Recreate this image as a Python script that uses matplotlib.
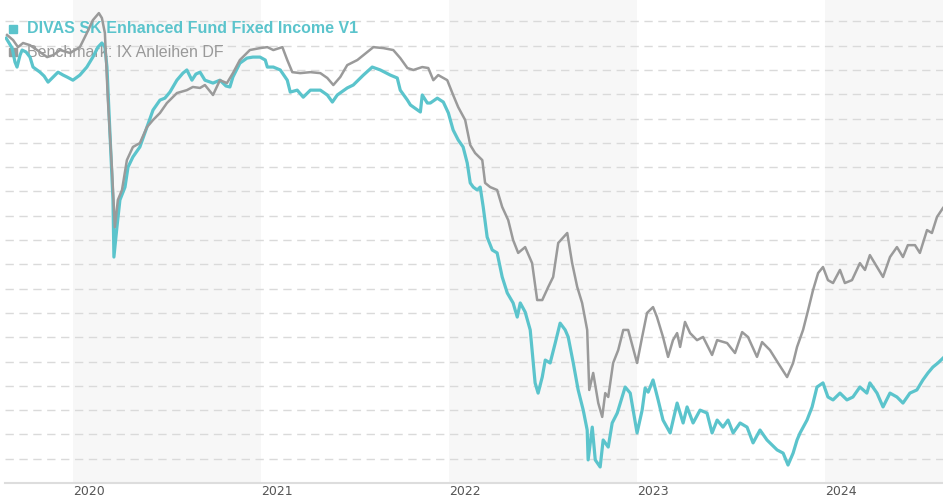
import pandas as pd
import numpy as np
import matplotlib
matplotlib.use("Agg")
import matplotlib.pyplot as plt
import matplotlib.dates as mdates

# dates as decimal years, values in chart units (one gridline = 1)
fund_t = [2019.644, 2019.676, 2019.691, 2019.702, 2019.718, 2019.729, 2019.750, 2019.771, 2019.787, 2019.824,
          2019.846, 2019.867, 2019.894, 2019.920, 2019.947, 2019.968, 2020.000, 2020.037, 2020.074, 2020.106,
          2020.133, 2020.154, 2020.170, 2020.181, 2020.197, 2020.213, 2020.218, 2020.234, 2020.250, 2020.277,
          2020.293, 2020.319, 2020.356, 2020.394, 2020.426, 2020.463, 2020.489, 2020.516, 2020.553, 2020.585,
          2020.606, 2020.633, 2020.654, 2020.676, 2020.702, 2020.745, 2020.782, 2020.814, 2020.835, 2020.851,
          2020.888, 2020.926, 2020.957, 2020.995, 2021.021, 2021.032, 2021.064, 2021.101, 2021.138, 2021.154,
          2021.191, 2021.223, 2021.261, 2021.314, 2021.351, 2021.378, 2021.404, 2021.457, 2021.489, 2021.543,
          2021.590, 2021.633, 2021.686, 2021.723, 2021.739, 2021.777, 2021.793, 2021.846, 2021.856, 2021.883,
          2021.899, 2021.936, 2021.968, 2021.995, 2022.021, 2022.048, 2022.074, 2022.096, 2022.112, 2022.128,
          2022.149, 2022.165, 2022.181, 2022.202, 2022.229, 2022.255, 2022.282, 2022.309, 2022.340, 2022.362,
          2022.378, 2022.404, 2022.431, 2022.457, 2022.473, 2022.495, 2022.511, 2022.537, 2022.564, 2022.590,
          2022.617, 2022.633, 2022.660, 2022.686, 2022.713, 2022.734, 2022.739, 2022.761, 2022.777, 2022.803,
          2022.819, 2022.846, 2022.867, 2022.894, 2022.910, 2022.936, 2022.963, 2023.000, 2023.027, 2023.043,
          2023.059, 2023.085, 2023.112, 2023.138, 2023.176, 2023.213, 2023.245, 2023.266, 2023.298, 2023.335,
          2023.372, 2023.399, 2023.426, 2023.457, 2023.484, 2023.511, 2023.548, 2023.585, 2023.617, 2023.654,
          2023.691, 2023.745, 2023.777, 2023.803, 2023.830, 2023.851, 2023.867, 2023.904, 2023.931, 2023.957,
          2023.989, 2024.016, 2024.043, 2024.080, 2024.117, 2024.149, 2024.186, 2024.223, 2024.239, 2024.277,
          2024.309, 2024.346, 2024.383, 2024.415, 2024.452, 2024.489, 2024.521, 2024.548, 2024.574, 2024.601,
          2024.628]
fund_v = [18.31, 17.90, 17.33, 17.12, 17.61, 17.82, 17.74, 17.53, 17.12, 16.91,
          16.75, 16.50, 16.71, 16.91, 16.79, 16.71, 16.58, 16.79, 17.12, 17.53,
          17.94, 18.11, 17.94, 17.12, 14.40, 11.65, 9.30, 10.53, 11.65, 12.18,
          13.00, 13.42, 13.83, 14.65, 15.35, 15.76, 15.84, 16.09, 16.58, 16.87,
          17.00, 16.58, 16.83, 16.91, 16.58, 16.46, 16.58, 16.34, 16.30, 16.71,
          17.28, 17.49, 17.53, 17.53, 17.41, 17.12, 17.12, 17.00, 16.58, 16.09,
          16.17, 15.88, 16.17, 16.17, 15.97, 15.68, 15.97, 16.26, 16.38, 16.79,
          17.12, 17.00, 16.79, 16.67, 16.17, 15.76, 15.56, 15.27, 15.97, 15.64,
          15.64, 15.84, 15.68, 15.23, 14.53, 14.12, 13.83, 13.17, 12.35, 12.18,
          12.06, 12.18, 11.36, 10.12, 9.59, 9.47, 8.48, 7.82, 7.41, 6.83,
          7.41, 7.04, 6.30, 4.12, 3.70, 4.36, 5.06, 4.94, 5.76, 6.58,
          6.30, 6.01, 4.94, 3.83, 3.00, 2.18, 0.95, 2.30, 0.95, 0.66,
          1.77, 1.48, 2.47, 2.88, 3.29, 3.95, 3.70, 2.06, 3.00, 3.91,
          3.74, 4.24, 3.42, 2.59, 2.06, 3.29, 2.47, 3.13, 2.47, 3.00,
          2.88, 2.06, 2.59, 2.30, 2.59, 2.06, 2.47, 2.30, 1.65, 2.18,
          1.77, 1.36, 1.23, 0.74, 1.23, 1.77, 2.06, 2.59, 3.13, 3.95,
          4.12, 3.54, 3.42, 3.70, 3.42, 3.54, 3.95, 3.70, 4.12, 3.70,
          3.13, 3.70, 3.54, 3.29, 3.70, 3.83, 4.24, 4.53, 4.77, 4.94,
          5.14]

bench_t = [2019.649, 2019.681, 2019.707, 2019.734, 2019.771, 2019.809, 2019.862, 2019.894, 2019.931, 2019.984,
           2020.037, 2020.074, 2020.106, 2020.138, 2020.154, 2020.170, 2020.186, 2020.207, 2020.223, 2020.239,
           2020.261, 2020.287, 2020.319, 2020.356, 2020.394, 2020.426, 2020.463, 2020.500, 2020.553, 2020.606,
           2020.638, 2020.676, 2020.702, 2020.745, 2020.782, 2020.819, 2020.851, 2020.888, 2020.941, 2020.995,
           2021.032, 2021.064, 2021.112, 2021.138, 2021.165, 2021.207, 2021.261, 2021.314, 2021.351, 2021.383,
           2021.420, 2021.457, 2021.511, 2021.564, 2021.596, 2021.649, 2021.702, 2021.739, 2021.777, 2021.809,
           2021.856, 2021.888, 2021.915, 2021.941, 2021.989, 2022.021, 2022.048, 2022.085, 2022.112, 2022.138,
           2022.176, 2022.191, 2022.218, 2022.255, 2022.282, 2022.314, 2022.340, 2022.367, 2022.404, 2022.441,
           2022.468, 2022.495, 2022.527, 2022.553, 2022.580, 2022.628, 2022.654, 2022.681, 2022.707, 2022.734,
           2022.745, 2022.766, 2022.793, 2022.814, 2022.830, 2022.846, 2022.872, 2022.899, 2022.926, 2022.952,
           2023.000, 2023.027, 2023.053, 2023.085, 2023.106, 2023.138, 2023.165, 2023.191, 2023.213, 2023.229,
           2023.255, 2023.282, 2023.319, 2023.351, 2023.399, 2023.426, 2023.479, 2023.521, 2023.559, 2023.590,
           2023.638, 2023.665, 2023.707, 2023.750, 2023.798, 2023.830, 2023.851, 2023.883, 2023.910, 2023.936,
           2023.963, 2023.989, 2024.016, 2024.043, 2024.080, 2024.106, 2024.144, 2024.186, 2024.213, 2024.239,
           2024.277, 2024.309, 2024.346, 2024.383, 2024.415, 2024.441, 2024.479, 2024.505, 2024.543, 2024.569,
           2024.596, 2024.628]
bench_v = [18.44, 18.23, 17.94, 18.11, 18.02, 17.82, 17.53, 17.61, 17.82, 17.70,
           17.94, 18.52, 19.05, 19.34, 19.14, 18.52, 15.76, 13.00, 10.53, 11.65,
           12.06, 13.29, 13.83, 13.99, 14.65, 14.94, 15.23, 15.64, 16.05, 16.17,
           16.30, 16.26, 16.38, 15.97, 16.58, 16.46, 16.87, 17.41, 17.82, 17.90,
           17.94, 17.82, 17.94, 17.41, 16.91, 16.87, 16.91, 16.87, 16.67, 16.38,
           16.71, 17.20, 17.41, 17.74, 17.94, 17.90, 17.82, 17.49, 17.08, 17.00,
           17.12, 17.08, 16.58, 16.79, 16.58, 15.97, 15.47, 14.94, 13.91, 13.58,
           13.29, 12.35, 12.18, 12.06, 11.36, 10.82, 10.00, 9.47, 9.71, 9.05,
           7.53, 7.53, 8.07, 8.48, 9.88, 10.29, 9.05, 8.07, 7.41, 6.30,
           3.83, 4.53, 3.29, 2.72, 3.70, 3.54, 4.94, 5.47, 6.30, 6.30,
           4.94, 6.01, 7.00, 7.24, 6.83, 6.01, 5.19, 5.88, 6.17, 5.60,
           6.63, 6.17, 5.88, 6.01, 5.27, 5.88, 5.76, 5.35, 6.21, 6.01,
           5.19, 5.80, 5.47, 4.94, 4.36, 4.94, 5.60, 6.30, 7.12, 7.94,
           8.64, 8.89, 8.35, 8.23, 8.77, 8.23, 8.35, 9.05, 8.77, 9.38,
           8.89, 8.48, 9.30, 9.71, 9.30, 9.79, 9.79, 9.47, 10.41, 10.29,
           10.95, 11.32]

years = [2020, 2021, 2022, 2023, 2024]
fund_name = "DIVAS SK Enhanced Fund Fixed Income V1"
bench_name = "Benchmark: IX Anleihen DF"

teal = "#5BC4CC"
grey = "#9A9A9A"


def to_dates(ts):
    out = []
    for t in ts:
        y = int(t)
        out.append(pd.Timestamp(year=y, month=1, day=1) + pd.Timedelta(days=(t - y) * 365.25))
    return mdates.date2num(out)


fig = plt.figure(figsize=(9.43, 5), dpi=100)
ax = fig.add_axes([5 / 943, 17 / 500, 938 / 943, 483 / 500])

# shaded every other year
for y in years[::2]:
    ax.axvspan(to_dates([y])[0], to_dates([y + 1])[0], color="#F7F7F7", zorder=0, lw=0)

ax.plot(to_dates(fund_t), fund_v, color=teal, lw=2.3, zorder=3, solid_joinstyle="round")
ax.plot(to_dates(bench_t), bench_v, color=grey, lw=1.8, zorder=4, solid_joinstyle="round")

ax.set_xlim(to_dates([2019.638])[0], to_dates([2024.628])[0])
ax.set_ylim(0, 19.88)
ax.set_yticks(np.arange(1, 20))
ax.yaxis.grid(True, color="#DADADA", linestyle=(0, (6, 4)), lw=1, zorder=1)
ax.set_axisbelow(True)
ax.tick_params(axis="y", length=0, labelleft=False)

ax.set_xticks(to_dates(years))
ax.set_xticklabels([str(y) for y in years], ha="left", fontsize=9, color="#555555")
ax.tick_params(axis="x", length=0, pad=1.5)

for s in ["top", "left", "right"]:
    ax.spines[s].set_visible(False)
ax.spines["bottom"].set_color("#DDDDDD")
ax.spines["bottom"].set_linewidth(1.5)
ax.set_facecolor("none")

# legend drawn under the lines
ax.plot([0.0085], [0.94], "s", color=teal, ms=6, transform=ax.transAxes, clip_on=False, zorder=2)
ax.plot([0.0085], [0.892], "s", color=grey, ms=6, transform=ax.transAxes, clip_on=False, zorder=2)
ax.text(0.0235, 0.94, fund_name, transform=ax.transAxes, va="center", ha="left",
        fontsize=11.5, fontweight="bold", color=teal, family="Liberation Sans", zorder=2)
ax.text(0.0235, 0.892, bench_name, transform=ax.transAxes, va="center", ha="left",
        fontsize=11.5, color="#999999", family="Liberation Sans", zorder=2)

fig.savefig("out.png", dpi=100)
